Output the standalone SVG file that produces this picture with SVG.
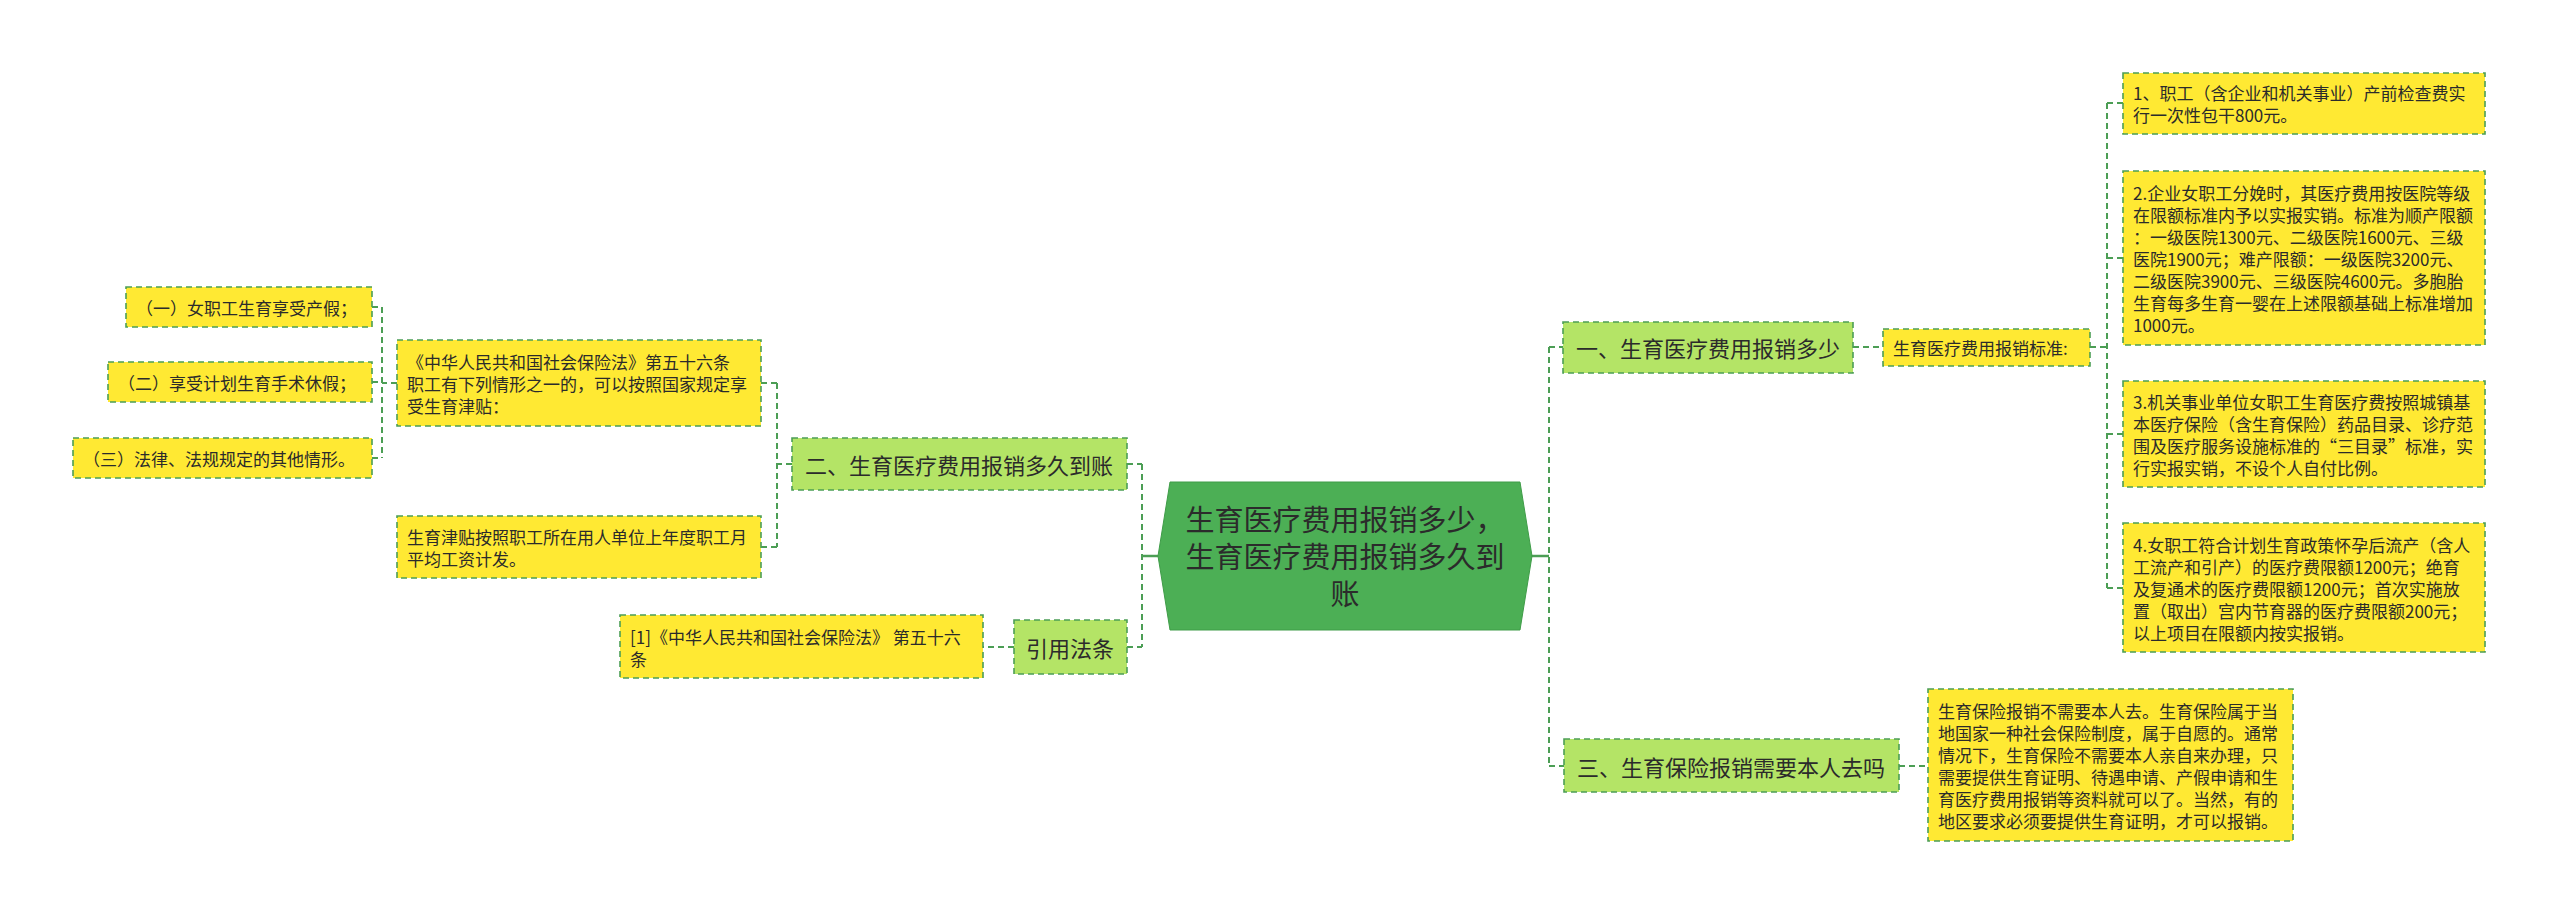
<svg xmlns="http://www.w3.org/2000/svg" width="2560" height="914" viewBox="0 0 2560 914">
<style>
text{font-family:"Noto Sans CJK SC","Noto Sans",sans-serif;fill:#2b2b2b;dominant-baseline:central}
.leaf{fill:#ffe933;stroke:#4c9e55;stroke-width:1.6;stroke-dasharray:6 4}
.br{fill:#b4e466;stroke:#4c9e55;stroke-width:1.6;stroke-dasharray:6 4}
.lt{font-size:17px}
.bt{font-size:22px}
.ct{font-size:29px;text-anchor:middle}
.c{fill:none;stroke:#4c9e55;stroke-width:2;stroke-dasharray:6 4}
.s{fill:none;stroke:#4c9e55;stroke-width:2.5}
</style>
<rect width="2560" height="914" fill="#ffffff"/>
<g id="connectors">
<path class="s" d="M1158,556 H1142"/>
<path class="c" d="M1142,464 V647 M1127,464 H1142 M1127,647 H1142"/>
<path class="c" d="M792,464 H777 M777,383 V547 M761,383 H777 M761,547 H777"/>
<path class="c" d="M397,383 H382 M382,307 V458 M372,307 H382 M372,382 H382 M372,458 H382"/>
<path class="c" d="M1014,647 H983"/>
<path class="s" d="M1530,556 H1549"/>
<path class="c" d="M1549,347 V766 M1549,347 H1563 M1549,766 H1564"/>
<path class="c" d="M1853,347 H1883 M2090,347 H2107 M2107,103 V588 M2107,103 H2123 M2107,258 H2123 M2107,434 H2123 M2107,588 H2123"/>
<path class="c" d="M1899,766 H1928"/>
</g>
<g id="center">
<polygon points="1158,556 1170,482 1520,482 1532,556 1520,630 1170,630" fill="#4caf55" stroke="#3f9c48" stroke-width="1"/>
<text class="ct" x="1345" y="518">生育医疗费用报销多少，</text>
<text class="ct" x="1345" y="555">生育医疗费用报销多久到</text>
<text class="ct" x="1345" y="592">账</text>
</g>
<g id="b1">
<rect class="br" x="1563" y="322" width="290" height="51"/>
<text class="bt" x="1576" y="347">一、生育医疗费用报销多少</text>
</g>
<g id="b1s">
<rect class="leaf" x="1883" y="329" width="207" height="37"/>
<text class="lt" x="1893" y="347">生育医疗费用报销标准:</text>
</g>
<g id="l1">
<rect class="leaf" x="2123" y="73" width="362" height="61"/>
<text class="lt" x="2133" y="92">1、职工（含企业和机关事业）产前检查费实</text>
<text class="lt" x="2133" y="114">行一次性包干800元。</text>
</g>
<g id="l2">
<rect class="leaf" x="2123" y="171" width="362" height="174"/>
<text class="lt" x="2133" y="192">2.企业女职工分娩时，其医疗费用按医院等级</text>
<text class="lt" x="2133" y="214">在限额标准内予以实报实销。标准为顺产限额</text>
<text class="lt" x="2133" y="236">：一级医院1300元、二级医院1600元、三级</text>
<text class="lt" x="2133" y="258">医院1900元；难产限额：一级医院3200元、</text>
<text class="lt" x="2133" y="280">二级医院3900元、三级医院4600元。多胞胎</text>
<text class="lt" x="2133" y="302">生育每多生育一婴在上述限额基础上标准增加</text>
<text class="lt" x="2133" y="324">1000元。</text>
</g>
<g id="l3">
<rect class="leaf" x="2123" y="381" width="362" height="106"/>
<text class="lt" x="2133" y="401">3.机关事业单位女职工生育医疗费按照城镇基</text>
<text class="lt" x="2133" y="423">本医疗保险（含生育保险）药品目录、诊疗范</text>
<text class="lt" x="2133" y="445">围及医疗服务设施标准的“三目录”标准，实</text>
<text class="lt" x="2133" y="467">行实报实销，不设个人自付比例。</text>
</g>
<g id="l4">
<rect class="leaf" x="2123" y="523" width="362" height="129"/>
<text class="lt" x="2133" y="544">4.女职工符合计划生育政策怀孕后流产（含人</text>
<text class="lt" x="2133" y="566">工流产和引产）的医疗费限额1200元；绝育</text>
<text class="lt" x="2133" y="588">及复通术的医疗费限额1200元；首次实施放</text>
<text class="lt" x="2133" y="610">置（取出）宫内节育器的医疗费限额200元；</text>
<text class="lt" x="2133" y="632">以上项目在限额内按实报销。</text>
</g>
<g id="b3">
<rect class="br" x="1564" y="739" width="335" height="53"/>
<text class="bt" x="1577" y="766">三、生育保险报销需要本人去吗</text>
</g>
<g id="b3l">
<rect class="leaf" x="1928" y="689" width="365" height="152"/>
<text class="lt" x="1938" y="710">生育保险报销不需要本人去。生育保险属于当</text>
<text class="lt" x="1938" y="732">地国家一种社会保险制度，属于自愿的。通常</text>
<text class="lt" x="1938" y="754">情况下，生育保险不需要本人亲自来办理，只</text>
<text class="lt" x="1938" y="776">需要提供生育证明、待遇申请、产假申请和生</text>
<text class="lt" x="1938" y="798">育医疗费用报销等资料就可以了。当然，有的</text>
<text class="lt" x="1938" y="820">地区要求必须要提供生育证明，才可以报销。</text>
</g>
<g id="b2">
<rect class="br" x="792" y="438" width="335" height="52"/>
<text class="bt" x="805" y="464">二、生育医疗费用报销多久到账</text>
</g>
<g id="b2c1">
<rect class="leaf" x="397" y="340" width="364" height="86"/>
<text class="lt" x="407" y="361">《中华人民共和国社会保险法》第五十六条</text>
<text class="lt" x="407" y="383">职工有下列情形之一的，可以按照国家规定享</text>
<text class="lt" x="407" y="405">受生育津贴：</text>
</g>
<g id="b2c2">
<rect class="leaf" x="397" y="516" width="364" height="62"/>
<text class="lt" x="407" y="536">生育津贴按照职工所在用人单位上年度职工月</text>
<text class="lt" x="407" y="558">平均工资计发。</text>
</g>
<g id="g1">
<rect class="leaf" x="126" y="287" width="246" height="40"/>
<text class="lt" x="136" y="307">（一）女职工生育享受产假；</text>
</g>
<g id="g2">
<rect class="leaf" x="108" y="362" width="264" height="40"/>
<text class="lt" x="118" y="382">（二）享受计划生育手术休假；</text>
</g>
<g id="g3">
<rect class="leaf" x="73" y="438" width="299" height="40"/>
<text class="lt" x="83" y="458">（三）法律、法规规定的其他情形。</text>
</g>
<g id="b4">
<rect class="br" x="1014" y="620" width="113" height="54"/>
<text class="bt" x="1026" y="647">引用法条</text>
</g>
<g id="b4l">
<rect class="leaf" x="620" y="615" width="363" height="63"/>
<text class="lt" x="630" y="636">[1]《中华人民共和国社会保险法》 第五十六</text>
<text class="lt" x="630" y="658">条</text>
</g>
</svg>
